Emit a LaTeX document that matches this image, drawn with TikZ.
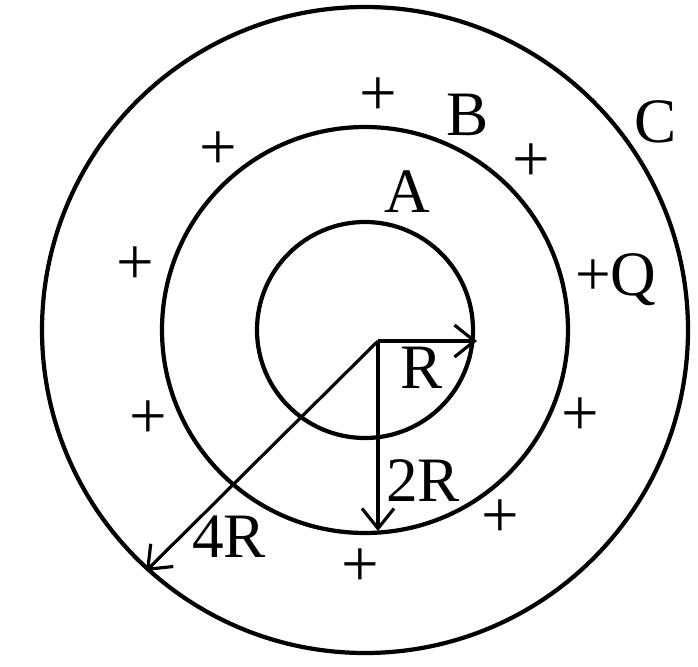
\documentclass[tikz,border=0pt]{standalone}
\usepackage{fontspec}
\setmainfont{Liberation Serif}
\usetikzlibrary{arrows.meta}

\tikzset{
  lbl/.style={inner sep=0pt, font=\fontsize{18}{18}\selectfont},
  chg/.style={inner sep=0pt, font=\fontsize{19}{19}\selectfont},
  radius arrow/.style={line width=0.9pt, -{Straight Barb[length=2mm,width=3.2mm]}}
}

\begin{document}
\begin{tikzpicture}[scale=1]
\useasboundingbox (0,0) rectangle (6.98,6.66);

% Shells
\coordinate (ctr) at (3.65,3.36);
\draw[line width=1.2pt] (ctr) circle (1.08);
\draw[line width=1.2pt] (ctr) circle (2.03);
\draw[line width=1.2pt] (ctr) circle (3.23);

% Radii
\coordinate (O) at (3.78,3.25);
\coordinate (endR) at (4.77,3.25);
\coordinate (end2R) at (3.78,1.35);
\coordinate (end4R) at (1.46,0.95);
\draw[radius arrow] (O) -- (endR);
\draw[radius arrow] (O) -- (end2R);
\draw[radius arrow] (O) -- (end4R);
\node[lbl] (labR) at (4.22,2.98) {R};
\node[lbl] (lab2R) at (4.23,1.85) {2R};
\node[lbl] (lab4R) at (2.29,1.29) {4R};

% Shell names
\node[lbl] (labA) at (4.07,4.74) {A};
\node[lbl] (labB) at (4.68,5.51) {B};
\node[lbl] (labC) at (6.56,5.44) {C};
\node[lbl] (labQ) at (6.16,3.86) {+Q};

% Charges on B
\foreach \px/\py [count=\i] in {3.78/5.69, 2.18/5.15, 1.35/4.00, 1.48/2.46,
    3.60/0.98, 5.00/1.47, 5.80/2.49, 5.31/5.03}
  \node[chg] (plus\i) at (\px,\py) {+};
\end{tikzpicture}
\end{document}
